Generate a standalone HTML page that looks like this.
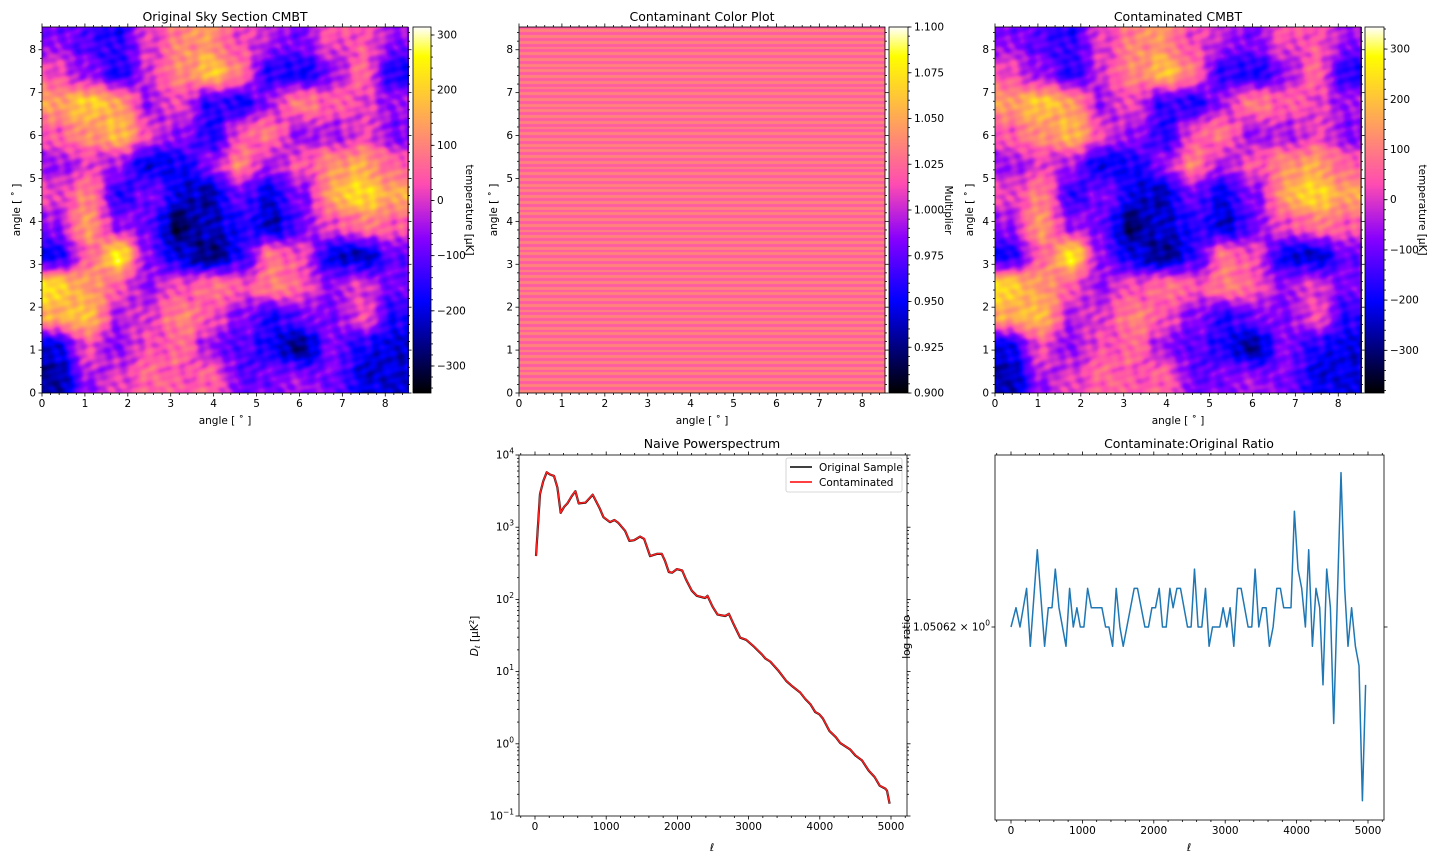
<!DOCTYPE html>
<html><head><meta charset="utf-8">
<style>
html,body{margin:0;padding:0;background:#fff;}
#root{position:relative;width:1440px;height:864px;overflow:hidden;font-family:"DejaVu Sans","Liberation Sans",sans-serif;}
canvas{position:absolute;}
svg{position:absolute;left:0;top:0;}
text{font-family:"DejaVu Sans","Liberation Sans",sans-serif;fill:#000;}
</style></head>
<body>
<div id="root">
<canvas id="hm1" width="367" height="366" style="left:42px;top:27px"></canvas>
<canvas id="cb1" width="18" height="366" style="left:413px;top:27px"></canvas>
<canvas id="hm2" width="366" height="366" style="left:519px;top:27px"></canvas>
<canvas id="cb2" width="19" height="366" style="left:889px;top:27px"></canvas>
<canvas id="hm3" width="367" height="366" style="left:995px;top:27px"></canvas>
<canvas id="cb3" width="19" height="366" style="left:1365px;top:27px"></canvas>
<svg id="svg" width="1440" height="864"></svg>
</div>
<script>
// ---- data ----
const skyGrid = [
[-80,-120,-160,0,100,120,20,-40,-80,30,40,-60],
[20,-60,-170,0,100,200,80,-150,-180,-60,60,-160],
[150,200,150,-60,30,-150,-170,-50,100,40,10,-60],
[40,120,180,20,-60,-170,30,80,-60,-50,20,-80],
[-60,0,-50,-200,-180,-60,100,-40,40,120,150,60],
[20,100,-150,-80,-200,-240,-100,-200,-80,150,220,150],
[-60,150,-60,-100,-300,-220,-160,-230,-100,20,80,40],
[-180,40,250,-80,-200,-280,-150,80,30,-200,-220,-100],
[220,130,40,-60,20,80,30,100,40,-60,0,-80],
[150,200,-40,10,100,40,-80,-160,-100,-80,20,-160],
[-200,20,-60,20,80,-60,-100,-180,-260,-80,-160,-220],
[-250,-60,0,60,30,60,-100,-80,-60,-80,-200,-200]];
const contamScale = 1.05;
const stripePattern = [1.020,1.036];
const cb1Ticks = [300,200,100,0,-100,-200,-300];
const cb2Ticks = [1.100,1.075,1.050,1.025,1.000,0.975,0.950,0.925,0.900];
const angleTicks = [0,1,2,3,4,5,6,7,8];
const psEll = [14,70,117,164,211,267,314,361,408,455,515,567,614,708,811,904,961,1054,1115,1172,1265,1326,1392,1476,1532,1617,1710,1781,1827,1879,1926,1992,2067,2123,2202,2273,2390,2423,2493,2563,2671,2723,2798,2882,2966,3083,3186,3238,3304,3421,3529,3622,3725,3796,3866,3936,3992,4044,4133,4227,4288,4428,4499,4592,4686,4770,4841,4920,4944,4981];
const psLogD = [2.60,3.46,3.64,3.76,3.73,3.71,3.55,3.20,3.28,3.33,3.43,3.50,3.33,3.34,3.45,3.27,3.14,3.07,3.10,3.06,2.95,2.81,2.82,2.87,2.84,2.60,2.63,2.63,2.53,2.38,2.37,2.42,2.40,2.27,2.12,2.05,2.02,2.05,1.90,1.79,1.77,1.80,1.64,1.47,1.44,1.34,1.24,1.18,1.14,1.01,0.87,0.79,0.71,0.62,0.55,0.44,0.41,0.35,0.18,0.09,0.01,-0.08,-0.16,-0.23,-0.37,-0.46,-0.58,-0.62,-0.65,-0.83];
const psContamFactor = 1.05062;
const ellTicks = [0,1000,2000,3000,4000,5000];
const psDecades = [-1,0,1,2,3,4];
const ratioEll = [0,70,126,219,271,368,471,522,574,620,672,770,821,872,923,970,1021,1073,1124,1273,1325,1371,1423,1474,1525,1572,1726,1772,1875,1926,1973,2024,2075,2122,2173,2225,2271,2323,2374,2472,2523,2570,2621,2672,2724,2775,2822,2924,2971,3022,3069,3120,3172,3223,3321,3372,3419,3470,3521,3573,3619,3671,3722,3773,3820,3922,3969,4020,4072,4123,4170,4221,4272,4323,4370,4421,4473,4519,4622,4673,4720,4771,4823,4874,4921,4967];
const ratioVals = [1.050620,1.050622,1.050620,1.050624,1.050618,1.050628,1.050618,1.050622,1.050622,1.050626,1.050622,1.050618,1.050624,1.050620,1.050622,1.050620,1.050620,1.050624,1.050622,1.050622,1.050620,1.050620,1.050618,1.050624,1.050620,1.050618,1.050624,1.050624,1.050620,1.050620,1.050622,1.050622,1.050624,1.050620,1.050620,1.050624,1.050622,1.050624,1.050624,1.050620,1.050620,1.050626,1.050620,1.050620,1.050624,1.050618,1.050620,1.050620,1.050622,1.050620,1.050622,1.050618,1.050624,1.050624,1.050620,1.050620,1.050626,1.050620,1.050622,1.050622,1.050618,1.050620,1.050624,1.050624,1.050622,1.050622,1.050632,1.050626,1.050624,1.050620,1.050628,1.050618,1.050624,1.050622,1.050614,1.050626,1.050622,1.050610,1.050636,1.050624,1.050618,1.050622,1.050618,1.050616,1.050602,1.050614];

// ---- colormap (gnuplot2) ----
function clip(v){return Math.max(0,Math.min(1,v));}
function cmap(x){
  x=clip(x);
  const r=clip(x/0.32-0.78125), g=clip(2*x-0.84);
  let b; if(x<0.25)b=4*x; else if(x<0.42)b=1; else if(x<0.92)b=-2*x+1.84; else b=x/0.08-11.5;
  return [r*255,g*255,clip(b)*255];
}
function sm(t){return t*t*(3-2*t);}
function sample(grid,fx,fy){
  const n=grid.length, m=grid[0].length;
  let gx=fx*m-0.5, gy=fy*n-0.5;
  gx=Math.max(0,Math.min(m-1.0001,gx)); gy=Math.max(0,Math.min(n-1.0001,gy));
  const x0=Math.floor(gx), y0=Math.floor(gy), tx=sm(gx-x0), ty=sm(gy-y0);
  const a=grid[y0][x0]*(1-tx)+grid[y0][x0+1]*tx;
  const c=grid[y0+1][x0]*(1-tx)+grid[y0+1][x0+1]*tx;
  return a*(1-ty)+c*ty;
}
// fine-scale visual texture (image detail, not chart data)
function texture(x,y){
  return 35*Math.sin(x*0.21+Math.sin(y*0.13)*2.1)*Math.cos(y*0.19+Math.cos(x*0.11)*1.7)
        +20*Math.sin(x*0.37+y*0.29)*Math.sin(y*0.41-x*0.17);
}
function drawHeat(id,scale,vmin,vmax){
  const cv=document.getElementById(id), ctx=cv.getContext('2d');
  const W=cv.width,H=cv.height, img=ctx.createImageData(W,H);
  for(let y=0;y<H;y++)for(let x=0;x<W;x++){
    const v=(sample(skyGrid,(x+0.5)/W,(y+0.5)/H)+texture(x,y))*scale;
    const c=cmap((v-vmin)/(vmax-vmin)); const i=(y*W+x)*4;
    img.data[i]=c[0];img.data[i+1]=c[1];img.data[i+2]=c[2];img.data[i+3]=255;
  }
  ctx.putImageData(img,0,0);
}
function drawCbar(id){
  const cv=document.getElementById(id), ctx=cv.getContext('2d');
  for(let y=0;y<cv.height;y++){const c=cmap(1-(y+0.5)/cv.height);
    ctx.fillStyle=`rgb(${c[0]|0},${c[1]|0},${c[2]|0})`;ctx.fillRect(0,y,cv.width,1);}
}
drawHeat('hm1',1,-349,314.5);
drawHeat('hm3',contamScale,-385,344);
drawCbar('cb1');drawCbar('cb2');drawCbar('cb3');
(function(){
  const cv=document.getElementById('hm2'),ctx=cv.getContext('2d');
  const rows=128, h=cv.height/rows;
  for(let r=0;r<rows;r++){const v=stripePattern[r%stripePattern.length];
    const c=cmap((v-0.9)/0.2);ctx.fillStyle=`rgb(${c[0]|0},${c[1]|0},${c[2]|0})`;
    ctx.fillRect(0,Math.floor(r*h),cv.width,Math.ceil(h)+1);}
})();

// ---- svg ----
const NS='http://www.w3.org/2000/svg', svg=document.getElementById('svg');
const FS=10.5;
function el(tag,attrs,parent){const e=document.createElementNS(NS,tag);for(const k in attrs)e.setAttribute(k,attrs[k]);(parent||svg).appendChild(e);return e;}
function txt(s,x,y,attrs){const t=el('text',Object.assign({x:x,y:y,'font-size':FS},attrs||{}));t.textContent=s;return t;}
function line(x1,y1,x2,y2,w){return el('line',{x1:x1,y1:y1,x2:x2,y2:y2,stroke:'#000','stroke-width':w||0.8});}

function frame(x0,y0,x1,y1,name){
  const r=el('rect',{x:x0,y:y0,width:x1-x0,height:y1-y0,fill:'none',stroke:'#000','stroke-width':0.8});
  
  
}

function angleAxes(x0,y0,size,name,showX){
  const sc=size/8.53;
  frame(x0,y0,x0+size,y0+size,name+'-frame');
  for(let v=0;v<=8.5;v+=0.2){const p=Math.round(v*5)%5===0; const L=p?3.5:2;
    const px=x0+v*sc, py=y0+size-v*sc;
    line(px,y0+size,px,y0+size+L);line(px,y0,px,y0-L);
    line(x0,py,x0-L,py);line(x0+size,py,x0+size+L,py);}
  angleTicks.forEach(v=>{
    const t1=txt(String(v),x0+v*sc,y0+size+14,{'text-anchor':'middle'});
    
    
    const t2=txt(String(v),x0-6,y0+size-v*sc+3.5,{'text-anchor':'end'});
    
    
  });
  const yl=txt('angle [ ˚ ]',0,0,{'text-anchor':'middle',transform:`translate(${x0-22},${y0+size/2}) rotate(-90)`});
  
  
  if(showX){const xl=txt('angle [ ˚ ]',x0+size/2,y0+size+31,{'text-anchor':'middle'});
    
    }
}
angleAxes(42,27,366,'original-sky',true);
angleAxes(519,27,366,'contaminant',true);
angleAxes(995,27,366,'contaminated',true);

function colorbarAxis(x0,w,vmin,vmax,ticks,fmt,minorStep,label,lx){
  const y0=27,H=366, ys=v=>y0+H-(v-vmin)/(vmax-vmin)*H;
  frame(x0,y0,x0+w,y0+H,'colorbar-frame');
  for(let v=Math.ceil(vmin/minorStep)*minorStep;v<=vmax+1e-9;v+=minorStep){line(x0+w,ys(v),x0+w+2,ys(v));}
  ticks.forEach(v=>{line(x0+w,ys(v),x0+w+3.5,ys(v));
    const t=txt(fmt(v),x0+w+6,ys(v)+3.5,{});
    
    });
  const l=txt(label,0,0,{'text-anchor':'middle',transform:`translate(${lx},210) rotate(90)`});
  
  
}
const fmtT=v=>(v<0?'\u2212'+(-v):String(v));
colorbarAxis(413,18,-349,314.5,cb1Ticks,fmtT,20,'temperature [μK]',466);
colorbarAxis(889,19,0.9,1.1,cb2Ticks,v=>v.toFixed(3),0.005,'Multiplier',945);
colorbarAxis(1365,19,-385,344,cb1Ticks,fmtT,20,'temperature [μK]',1419);

[['Original Sky Section CMBT',225,21,'title-original'],['Contaminant Color Plot',702,21,'title-contaminant'],['Contaminated CMBT',1178,21,'title-contaminated'],['Naive Powerspectrum',712,448,'title-powerspectrum'],['Contaminate:Original Ratio',1189,448,'title-ratio']].forEach(a=>{
  const t=txt(a[0],a[1],a[2],{'text-anchor':'middle','font-size':12.5});
  
  
});

// power spectrum
const PS={x0:519,x1:907,y0:455,y1:816};
const psX=l=>535+l*(891-535)/5000;
const psY=lg=>PS.y0+(4-lg)*(PS.y1-PS.y0)/5;
frame(PS.x0,PS.y0,PS.x1,PS.y1,'powerspectrum-frame');
for(let l=-200;l<=5200;l+=200){const x=psX(l);if(x<PS.x0||x>PS.x1)continue;const L=l%1000===0?3.5:2;
  line(x,PS.y1,x,PS.y1+L);line(x,PS.y0,x,PS.y0-L);}
ellTicks.forEach(l=>{const t=txt(String(l),psX(l),PS.y1+14,{'text-anchor':'middle'});
  
  });
psDecades.forEach(d=>{const y=psY(d);line(PS.x0,y,PS.x0-3.5,y);line(PS.x1,y,PS.x1+3.5,y);
  const t=el('text',{x:PS.x0-5,y:y+3.5,'font-size':FS,'text-anchor':'end'});
  
  
  t.innerHTML='10<tspan dy="-5" font-size="7.5">'+(d<0?'\u2212'+(-d):d)+'</tspan>';
  if(d<4)for(let k=2;k<10;k++){const yy=psY(d+Math.log10(k));line(PS.x0,yy,PS.x0-2,yy);line(PS.x1,yy,PS.x1+2,yy);}
});
function psPath(vals,shift){return vals.map((v,i)=>(i?'L':'M')+psX(psEll[i]).toFixed(1)+','+psY(v+shift).toFixed(1)).join('');}
const pOrig=el('path',{d:psPath(psLogD,0),fill:'none',stroke:'#000','stroke-width':2.2,'stroke-linejoin':'round'});


const pCont=el('path',{d:psPath(psLogD,Math.log10(psContamFactor)-0.02),fill:'none',stroke:'#ff2020','stroke-width':1.5,'stroke-linejoin':'round'});


const leg=el('g',{});


el('rect',{x:786,y:458,width:116,height:34,rx:2,fill:'#fff','fill-opacity':0.8,stroke:'#ccc','stroke-width':0.8},leg);
el('line',{x1:790,y1:467,x2:812,y2:467,stroke:'#000','stroke-width':1.5},leg);
el('line',{x1:790,y1:482,x2:812,y2:482,stroke:'#f00','stroke-width':1.5},leg);
const le1=txt('Original Sample',819,471,{});leg.appendChild(le1);


const le2=txt('Contaminated',819,486,{});leg.appendChild(le2);


const psyl=el('text',{'font-size':FS,'text-anchor':'middle',transform:'translate(478,636) rotate(-90)'});


psyl.innerHTML='<tspan font-style="italic">D</tspan><tspan font-style="italic" font-size="7" dy="2">ℓ</tspan><tspan dy="-2"> [μK</tspan><tspan font-size="7" dy="-4">2</tspan><tspan dy="4">]</tspan>';
const psxl=txt('ℓ',712,851,{'text-anchor':'middle','font-style':'italic'});



// ratio plot
const R={x0:995,x1:1384,y0:455,y1:820};
const rX=l=>1011+l*(1368-1011)/5000;
const rY=v=>627-(v-1.05062)/2e-6*19.3;
frame(R.x0,R.y0,R.x1,R.y1,'ratio-frame');
for(let l=-200;l<=5200;l+=200){const x=rX(l);if(x<R.x0||x>R.x1)continue;const L=l%1000===0?3.5:2;
  line(x,R.y1,x,R.y1+L);line(x,R.y0,x,R.y0-L);}
ellTicks.forEach(l=>{const t=txt(String(l),rX(l),R.y1+14,{'text-anchor':'middle'});
  
  });
line(R.x0,627,R.x0-3.5,627);line(R.x1,627,R.x1+3.5,627);
const rtl=el('text',{x:R.x0-5,y:630.5,'font-size':FS,'text-anchor':'end'});


rtl.innerHTML='1.05062 × 10<tspan dy="-5" font-size="7.5">0</tspan>';
const rp=el('path',{d:ratioVals.map((v,i)=>(i?'L':'M')+rX(ratioEll[i]).toFixed(1)+','+rY(v).toFixed(1)).join(''),fill:'none',stroke:'#1f77b4','stroke-width':1.5,'stroke-linejoin':'round'});


const ryl=txt('log ratio',0,0,{'text-anchor':'middle',transform:'translate(910,637) rotate(-90)'});


const rxl=txt('ℓ',1189,851,{'text-anchor':'middle','font-style':'italic'});


</script>
</body></html>
